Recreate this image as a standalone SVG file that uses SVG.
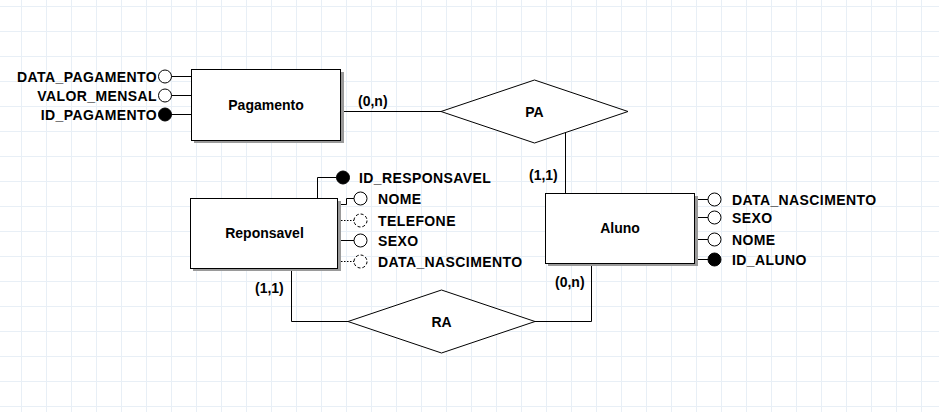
<svg xmlns="http://www.w3.org/2000/svg" width="939" height="412" viewBox="0 0 939 412">
<style>
text{font-family:"Liberation Sans",Arial,sans-serif;font-weight:bold;font-size:14px;fill:#000}
.c{text-anchor:middle}
.r{text-anchor:end}
.a{letter-spacing:0.4px}
.ent{fill:#fff;stroke:#000;stroke-width:1}
.sh{fill:#9a9a9a}
.rel{fill:#fff;stroke:#000;stroke-width:1}
.ln{fill:none;stroke:#000;stroke-width:1}
.dot{fill:none;stroke:#000;stroke-width:1;stroke-dasharray:1.5 1.5}
.att{fill:#fff;stroke:#000;stroke-width:1}
.key{fill:#000;stroke:#000;stroke-width:1}
.opt{fill:#fff;stroke:#000;stroke-width:1;stroke-dasharray:3 2}
</style>
<defs>
<pattern id="grid" patternUnits="userSpaceOnUse" x="21" y="6" width="25" height="25">
<path d="M0 0.5H25M0.5 0V25" stroke="#e8eff6" stroke-width="1" fill="none"/>
</pattern>
</defs>
<rect width="939" height="412" fill="#fff"/>
<rect width="939" height="412" fill="url(#grid)"/>

<g id="connectors">
<path class="ln" d="M341 111.5H441"/>
<path class="ln" d="M565.5 132V193"/>
<path class="ln" d="M291.5 268V321.5H348"/>
<path class="ln" d="M535 321.5H591.5V263"/>
<path class="ln" d="M171 76.5H191M171 95.5H191M171 114.5H191"/>
<path class="ln" d="M317.5 198V177.5H336.5"/>
<path class="ln" d="M338 204.5H346.5V198.5H354"/>
<path class="dot" d="M338 220.5H354"/>
<path class="ln" d="M338 240.5H354"/>
<path class="dot" d="M338 261.5H354"/>
<path class="ln" d="M695 199.5H708M695 217.5H708M695 239.5H708M695 259.5H708"/>
</g>

<g id="Pagamento">
<rect class="sh" x="194" y="72" width="150" height="71"/>
<rect class="ent" x="191.5" y="69.5" width="149" height="71"/>
<text class="c" x="266" y="110">Pagamento</text>
</g>
<g id="attr-DATA_PAGAMENTO">
<circle class="att" cx="165" cy="76.5" r="6.5"/>
<text class="r a" x="157" y="81.5">DATA_PAGAMENTO</text>
</g>
<g id="attr-VALOR_MENSAL">
<circle class="att" cx="165" cy="95.5" r="6.5"/>
<text class="r a" x="157" y="100.5">VALOR_MENSAL</text>
</g>
<g id="attr-ID_PAGAMENTO">
<circle class="key" cx="165" cy="114.5" r="6.5"/>
<text class="r a" x="157" y="119.5">ID_PAGAMENTO</text>
</g>

<g id="PA">
<polygon class="rel" points="441,111.5 534.5,80 628,111.5 534.5,143"/>
<text class="c" x="534.5" y="116.5">PA</text>
</g>

<g id="Reponsavel">
<rect class="sh" x="193" y="201" width="148" height="70"/>
<rect class="ent" x="190.5" y="198.5" width="147" height="70"/>
<text class="c" x="264.5" y="238">Reponsavel</text>
</g>
<g id="attr-ID_RESPONSAVEL">
<circle class="key" cx="343" cy="177.5" r="6.5"/>
<text class="a" x="359" y="182.5">ID_RESPONSAVEL</text>
</g>
<g id="attr-NOME-R">
<circle class="att" cx="360.5" cy="198.5" r="6.5"/>
<text class="a" x="378" y="203.5">NOME</text>
</g>
<g id="attr-TELEFONE">
<circle class="opt" cx="360.5" cy="220.5" r="6.5"/>
<text class="a" x="378" y="225.5">TELEFONE</text>
</g>
<g id="attr-SEXO-R">
<circle class="att" cx="360.5" cy="240.5" r="6.5"/>
<text class="a" x="378" y="245.5">SEXO</text>
</g>
<g id="attr-DATA_NASCIMENTO-R">
<circle class="opt" cx="360.5" cy="261.5" r="6.5"/>
<text class="a" x="378" y="266.5">DATA_NASCIMENTO</text>
</g>

<g id="Aluno">
<rect class="sh" x="548" y="196" width="150" height="70"/>
<rect class="ent" x="545.5" y="193.5" width="149" height="70"/>
<text class="c" x="620" y="233">Aluno</text>
</g>
<g id="attr-DATA_NASCIMENTO-A">
<circle class="att" cx="714.5" cy="199.5" r="6.5"/>
<text class="a" x="732" y="204.5">DATA_NASCIMENTO</text>
</g>
<g id="attr-SEXO-A">
<circle class="att" cx="714.5" cy="217.5" r="6.5"/>
<text class="a" x="732" y="222.5">SEXO</text>
</g>
<g id="attr-NOME-A">
<circle class="att" cx="714.5" cy="239.5" r="6.5"/>
<text class="a" x="732" y="244.5">NOME</text>
</g>
<g id="attr-ID_ALUNO">
<circle class="key" cx="714.5" cy="259.5" r="6.5"/>
<text class="a" x="732" y="264.5">ID_ALUNO</text>
</g>

<g id="RA">
<polygon class="rel" points="348,321.5 441.5,290 535,321.5 441.5,353"/>
<text class="c" x="441.5" y="326.5">RA</text>
</g>

<g id="labels">
<text x="358" y="106">(0,n)</text>
<text x="529" y="180">(1,1)</text>
<text x="255" y="293">(1,1)</text>
<text x="555" y="287">(0,n)</text>
</g>
</svg>
